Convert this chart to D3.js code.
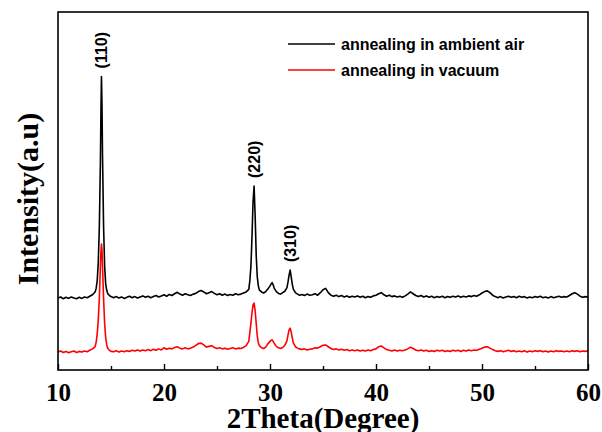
<html>
<head>
<script src="https://d3js.org/d3.v7.min.js"></script>
<style>
  body { margin: 0; background: #fff; }
  svg text.serif { font-family: "Liberation Serif", "Times New Roman", serif; font-weight: bold; fill: #000; }
  svg text.sans { font-family: "Liberation Sans", Arial, sans-serif; font-weight: bold; fill: #000; }
</style>
</head>
<body>
<svg id="chart" width="602" height="432"></svg>
<script>
// 2theta positions (degrees), shared by both patterns
var theta = [
  10, 10.25, 10.5, 10.75, 11, 11.25, 11.5, 11.75, 12, 12.25, 12.5, 12.75, 13, 13.25,
  13.5, 13.6, 13.7, 13.8, 13.9, 14, 14.05, 14.1, 14.15, 14.2, 14.3, 14.4, 14.5, 14.6, 14.7, 14.85, 15,
  15.25, 15.5, 15.75, 16, 16.25, 16.5, 16.75, 17, 17.25, 17.5, 17.75, 18, 18.25, 18.5, 18.75, 19, 19.25, 19.5, 19.75,
  20, 20.25, 20.5, 20.75, 21, 21.25, 21.5, 21.75, 22, 22.25, 22.5, 22.75, 23, 23.25, 23.5, 23.75, 24, 24.25, 24.5, 24.75,
  25, 25.25, 25.5, 25.75, 26, 26.25, 26.5, 26.75, 27, 27.25, 27.5, 27.75,
  28, 28.1, 28.2, 28.3, 28.4, 28.5, 28.6, 28.7, 28.8, 28.9, 29, 29.2, 29.4, 29.6, 29.8,
  30, 30.1, 30.2, 30.3, 30.4, 30.6, 30.8, 31, 31.2, 31.4, 31.6, 31.7, 31.8, 31.9, 32, 32.1, 32.2, 32.4, 32.6, 32.8,
  33, 33.25, 33.5, 33.75, 34, 34.25, 34.5, 34.75, 35, 35.25, 35.5, 35.75, 36, 36.25, 36.5, 36.75, 37, 37.25, 37.5, 37.75,
  38, 38.25, 38.5, 38.75, 39, 39.25, 39.5, 39.75, 40, 40.25, 40.5, 40.75, 41, 41.25, 41.5, 41.75, 42, 42.25, 42.5, 42.75,
  43, 43.25, 43.5, 43.75, 44, 44.25, 44.5, 44.75, 45, 45.25, 45.5, 45.75, 46, 46.25, 46.5, 46.75, 47, 47.25, 47.5, 47.75,
  48, 48.25, 48.5, 48.75, 49, 49.25, 49.5, 49.75, 50, 50.25, 50.5, 50.75, 51, 51.25, 51.5, 51.75, 52, 52.25, 52.5, 52.75,
  53, 53.25, 53.5, 53.75, 54, 54.25, 54.5, 54.75, 55, 55.25, 55.5, 55.75, 56, 56.25, 56.5, 56.75, 57, 57.25, 57.5, 57.75,
  58, 58.25, 58.5, 58.75, 59, 59.25, 59.5, 59.75, 60
];

// annealing in ambient air (offset trace, arbitrary units)
var airI = [
  20.1, 20.4, 19.9, 20.3, 20.0, 20.4, 20.1, 19.9, 20.3, 20.0, 20.4, 20.2, 20.6, 21.0,
  21.8, 22.8, 25.0, 30.0, 40.0, 58.0, 72.0, 82.0, 74.0, 60.0, 40.0, 29.0, 24.0, 22.2, 21.3, 20.8, 20.5,
  20.2, 20.5, 20.1, 20.4, 20.0, 20.3, 20.6, 20.2, 20.5, 20.1, 20.4, 20.7, 20.3, 20.6, 20.2, 20.5, 20.8, 20.4, 20.7,
  21.0, 20.6, 21.1, 20.8, 21.3, 21.7, 21.2, 20.9, 21.3, 21.0, 20.8, 21.2, 21.4, 21.9, 22.2, 21.8, 21.3, 21.6, 21.9, 21.4,
  21.0, 21.3, 20.9, 21.2, 20.8, 21.1, 20.9, 21.3, 21.0, 21.2, 21.5, 21.8,
  22.5, 25.0, 29.0, 37.0, 47.0, 51.4, 43.0, 32.0, 26.0, 23.5, 22.3, 21.8, 21.5, 21.9, 22.6,
  23.5, 24.0, 24.4, 23.8, 22.8, 21.9, 21.4, 21.2, 21.6, 22.0, 23.0, 24.6, 26.5, 27.9, 26.0, 24.0, 22.6, 21.6, 21.2, 20.9,
  21.1, 20.8, 21.2, 20.9, 21.0, 21.3, 20.9, 21.6, 22.4, 22.8, 21.6, 20.9, 20.6, 20.9, 20.5, 20.8, 20.4, 20.7, 20.3, 20.6,
  20.4, 20.7, 20.3, 20.6, 20.2, 20.5, 20.3, 20.7, 20.9, 21.3, 21.6, 21.0, 20.6, 20.9, 20.5, 20.7, 20.4, 20.6, 20.3, 20.7,
  21.2, 21.8, 21.3, 20.8, 20.5, 20.8, 20.4, 20.7, 20.3, 20.6, 20.2, 20.5, 20.3, 20.6, 20.2, 20.5, 20.3, 20.6, 20.4, 20.7,
  20.3, 20.6, 20.4, 20.7, 20.5, 20.8, 20.6, 21.0, 21.5, 21.9, 22.1, 21.6, 20.9, 20.5, 20.2, 20.5, 20.1, 20.4, 20.6, 20.3,
  20.5, 20.2, 20.6, 20.3, 20.5, 20.1, 20.4, 20.2, 20.5, 20.3, 20.6, 20.2, 20.4, 20.1, 20.5, 20.2, 20.4, 20.6, 20.3, 20.5,
  20.4, 20.8, 21.3, 21.6, 21.2, 20.6, 20.3, 20.5, 20.4
];

// annealing in vacuum
var vacI = [
  5.0, 5.3, 4.9, 5.2, 4.8, 5.1, 5.3, 4.9, 5.2, 5.0, 5.3, 5.1, 5.5, 5.9,
  6.5, 7.8, 10.0, 14.0, 20.0, 29.0, 33.0, 35.2, 33.5, 29.0, 20.0, 13.0, 9.0, 7.0, 6.0, 5.5, 5.2,
  5.1, 5.4, 5.0, 5.3, 5.1, 5.4, 5.2, 5.5, 5.3, 5.6, 5.3, 5.6, 5.4, 5.7, 5.4, 5.8, 5.5, 5.9, 5.6,
  6.2, 5.8, 6.1, 5.9, 6.3, 6.5, 6.1, 5.9, 6.2, 5.9, 6.1, 6.4, 6.9, 7.4, 7.5, 7.0, 6.4, 6.6, 6.8, 6.3,
  6.0, 6.2, 5.9, 6.1, 5.8, 6.0, 6.2, 5.9, 6.1, 6.0, 6.3, 6.8,
  8.0, 10.5, 13.0, 16.0, 18.2, 18.7, 16.5, 13.0, 9.5, 7.6, 6.8, 6.2, 6.0, 6.4, 7.3,
  8.0, 8.3, 8.4, 8.0, 7.4, 6.6, 6.2, 6.0, 6.3, 6.9, 8.2, 9.8, 11.2, 11.7, 10.6, 9.0, 7.6, 6.5, 6.1, 5.9,
  5.7, 5.9, 5.6, 5.8, 5.9, 6.2, 6.1, 6.5, 6.9, 7.0, 6.5, 6.0, 5.7, 5.9, 5.6, 5.8, 5.5, 5.7, 5.4, 5.6,
  5.4, 5.6, 5.3, 5.5, 5.3, 5.6, 5.4, 5.7, 5.9, 6.5, 6.7, 6.2, 5.7, 5.5, 5.3, 5.6, 5.3, 5.5, 5.4, 5.6,
  5.9, 6.4, 6.0, 5.6, 5.4, 5.6, 5.3, 5.5, 5.2, 5.4, 5.2, 5.5, 5.3, 5.5, 5.2, 5.4, 5.2, 5.5, 5.3, 5.5,
  5.2, 5.5, 5.3, 5.6, 5.4, 5.6, 5.5, 5.8, 6.1, 6.4, 6.5, 6.1, 5.7, 5.4, 5.2, 5.4, 5.1, 5.3, 5.5, 5.2,
  5.4, 5.1, 5.3, 5.1, 5.4, 5.0, 5.3, 5.1, 5.4, 5.2, 5.4, 5.1, 5.3, 5.0, 5.3, 5.1, 5.4, 5.2, 5.3, 5.1,
  5.3, 5.1, 5.4, 5.2, 5.4, 5.1, 5.3, 5.2, 5.4
];

var seriesNames = ["annealing in ambient air", "annealing in vacuum"];
var seriesColors = ["#000000", "#ff0000"];
var xTicks = [10, 20, 30, 40, 50, 60];
var xMinorTicks = [15, 25, 35, 45, 55];
var peakLabels = ["(110)", "(220)", "(310)"];
var peakTheta = [14.1, 28.5, 31.9];
var peakTop = [82, 51.4, 27.9];

var svg = d3.select("#chart");
var plotL = 58, plotR = 588, plotT = 12, plotB = 370;

var x = d3.scaleLinear().domain([10, 60]).range([plotL, plotR]);
var y = d3.scaleLinear().domain([0, 100]).range([plotB, plotT]);

// curves
var line = d3.line().x(function(d) { return x(d[0]); }).y(function(d) { return y(d[1]); });
[airI, vacI].forEach(function(vals, i) {
  svg.append("path")
    .datum(d3.zip(theta, vals))
    .attr("d", line)
    .attr("fill", "none")
    .attr("stroke", seriesColors[i])
    .attr("stroke-width", 1.6)
    .attr("stroke-linejoin", "round");
});

// frame
svg.append("rect")
  .attr("x", plotL).attr("y", plotT)
  .attr("width", plotR - plotL).attr("height", plotB - plotT)
  .attr("fill", "none").attr("stroke", "#000").attr("stroke-width", 1.6);

// x axis with inward ticks
var xAxis = svg.append("g").attr("transform", "translate(0," + plotB + ")")
  .call(d3.axisBottom(x).tickValues(xTicks).tickSize(-6).tickFormat(d3.format("d")));
xAxis.select(".domain").remove();
xAxis.selectAll(".tick line").attr("stroke-width", 1.4);
xAxis.selectAll(".tick text")
  .attr("class", "serif")
  .attr("y", 31).attr("dy", 0)
  .style("font-size", "25px");

var xMinor = svg.append("g").attr("transform", "translate(0," + plotB + ")")
  .call(d3.axisBottom(x).tickValues(xMinorTicks).tickSize(-4).tickFormat(""));
xMinor.select(".domain").remove();
xMinor.selectAll(".tick line").attr("stroke-width", 1.4);

// axis titles
svg.append("text").attr("class", "serif")
  .attr("x", (plotL + plotR) / 2).attr("y", 428)
  .attr("text-anchor", "middle")
  .style("font-size", "29px")
  .text("2Theta(Degree)");

svg.append("text").attr("class", "serif")
  .attr("transform", "translate(38," + ((plotT + plotB) / 2 + 8) + ") rotate(-90)")
  .attr("text-anchor", "middle")
  .style("font-size", "30px")
  .text("Intensity(a.u)");

// peak labels
peakLabels.forEach(function(lab, i) {
  svg.append("text").attr("class", "sans")
    .attr("transform", "translate(" + x(peakTheta[i]) + "," + (y(peakTop[i]) - 8) + ") rotate(-90)")
    .attr("dy", "0.35em")
    .style("font-size", "16px")
    .text(lab);
});

// legend
seriesNames.forEach(function(name, i) {
  var ly = 44 + i * 26;
  svg.append("line")
    .attr("x1", 288).attr("x2", 335).attr("y1", ly).attr("y2", ly)
    .attr("stroke", seriesColors[i]).attr("stroke-width", 1.4);
  svg.append("text").attr("class", "sans")
    .attr("x", 341).attr("y", ly + 6)
    .style("font-size", "16px")
    .text(name);
});
</script>
</body>
</html>
